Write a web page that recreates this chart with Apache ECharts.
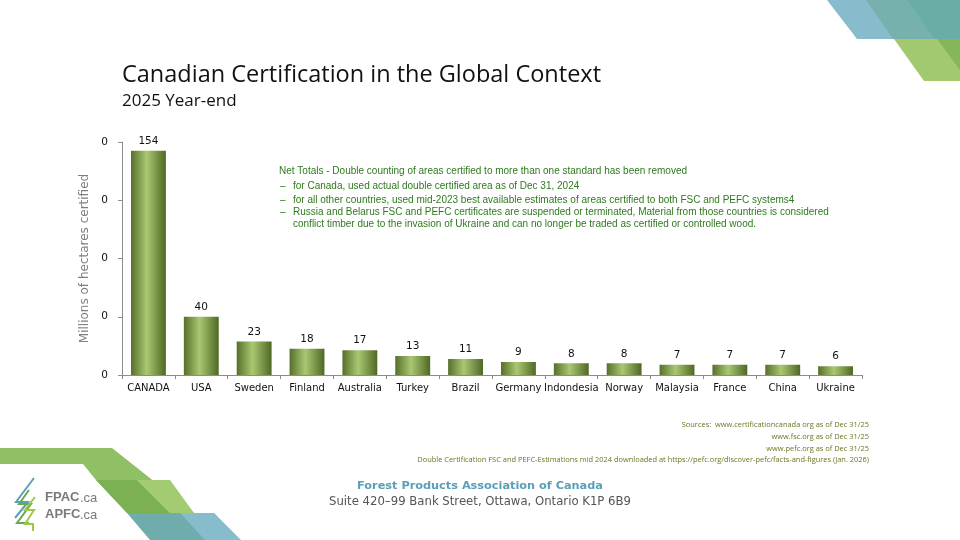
<!DOCTYPE html>
<html><head><meta charset="utf-8">
<script src="https://cdn.jsdelivr.net/npm/echarts@6/dist/echarts.min.js"></script>
<style>html,body{margin:0;padding:0;background:#fff}#c{width:960px;height:540px}</style>
</head><body><div id="c"></div>
<script>
const categories = ['CANADA','USA','Sweden','Finland','Australia','Turkey','Brazil','Germany','Indondesia','Norway','Malaysia','France','China','Ukraine'];
const values = [154,40,23,18,17,13,11,9,8,8,7,7,7,6];
const yTickLabels = ['0','0','0','0','0'];
const noteLines = [
  'Net Totals - Double counting of areas certified to more than one standard has been removed',
  'for Canada, used actual double certified area as of Dec 31, 2024',
  'for all other countries, used mid-2023 best available estimates of areas certified to both FSC and PEFC systems4',
  'Russia and Belarus FSC and PEFC certificates are suspended or terminated, Material from those countries is considered',
  'conflict timber due to the invasion of Ukraine and can no longer be traded as certified or controlled wood.'
];
const sourceLines = [
  'Sources:  www.certificationcanada org as of Dec 31/25',
  'www.fsc.org as of Dec 31/25',
  'www.pefc.org as of Dec 31/25',
  'Double Certification FSC and PEFC-Estimations mid 2024 downloaded at https://pefc.org/discover-pefc/facts-and-figures (Jan. 2026)'
];

const chart = echarts.init(document.getElementById('c'));
const barGrad = new echarts.graphic.LinearGradient(0,0,1,0,[
  {offset:0,color:'#566f2a'},{offset:0.45,color:'#a9c872'},{offset:1,color:'#4f6824'}
]);
const noteColor = '#2f7a1e';
const graphics = [
  // top-right decoration
  {type:'polygon',shape:{points:[[827,0],[960,0],[960,39],[857,39]]},style:{fill:'#88bccd'},silent:true},
  {type:'polygon',shape:{points:[[866,0],[960,0],[960,39],[893,39]]},style:{fill:'#76b1ae'},silent:true},
  {type:'polygon',shape:{points:[[907,0],[960,0],[960,39],[935,39]]},style:{fill:'#6aaca6'},silent:true},
  {type:'polygon',shape:{points:[[894,39],[960,39],[960,81],[924,81]]},style:{fill:'#a3c96e'},silent:true},
  {type:'polygon',shape:{points:[[937,39],[960,39],[960,70]]},style:{fill:'#86b55a'},silent:true},
  // bottom-left decoration
  {type:'polygon',shape:{points:[[0,448],[112,448],[194,513],[127,513],[96,480],[83,464],[0,464]]},style:{fill:'#8fc066'},silent:true},
  {type:'polygon',shape:{points:[[96,480],[137,480],[170,513],[127,513]]},style:{fill:'#7bb152'},silent:true},
  {type:'polygon',shape:{points:[[137,480],[170,480],[194,513],[170,513]]},style:{fill:'#a3cb72'},silent:true},
  {type:'polygon',shape:{points:[[127,513],[214,513],[236,540],[150,540]]},style:{fill:'#6eadab'},silent:true},
  {type:'polygon',shape:{points:[[180,513],[214,513],[241,540],[205,540]]},style:{fill:'#86bccc'},silent:true},
  // logo tree
  {type:'polyline',shape:{points:[[34,478],[16,502],[28,502],[15,518]]},style:{stroke:'#5b9fbd',lineWidth:2,fill:null},silent:true},
  {type:'polyline',shape:{points:[[29,490],[19,504],[31,504],[17,523],[29,523]]},style:{stroke:'#6aa84f',lineWidth:2,fill:null},silent:true},
  {type:'polyline',shape:{points:[[35,497],[25,510],[34,510],[25,524],[33,524],[33,531]]},style:{stroke:'#9bc94a',lineWidth:2,fill:null},silent:true},
  {type:'text',style:{x:45,y:497,text:'FPAC',fill:'#7a7a7a',font:'bold 13px "Liberation Sans"',textVerticalAlign:'middle'},silent:true},
  {type:'text',style:{x:80,y:498,text:'.ca',fill:'#7a7a7a',font:'13px "Liberation Sans"',textVerticalAlign:'middle'},silent:true},
  {type:'text',style:{x:45,y:514,text:'APFC',fill:'#7a7a7a',font:'bold 13px "Liberation Sans"',textVerticalAlign:'middle'},silent:true},
  {type:'text',style:{x:80,y:515,text:'.ca',fill:'#7a7a7a',font:'13px "Liberation Sans"',textVerticalAlign:'middle'},silent:true},
  // footer
  {type:'text',style:{x:480,y:486,text:'Forest Products Association of Canada',fill:'#5b9fb6',font:'bold 11.3px "DejaVu Sans"',textAlign:'center',textVerticalAlign:'middle'},silent:true},
  {type:'text',style:{x:480,y:502,text:'Suite 420\u201399 Bank Street, Ottawa, Ontario K1P 6B9',fill:'#555555',font:'11.7px "DejaVu Sans"',textAlign:'center',textVerticalAlign:'middle'},silent:true},
  // title
  {type:'text',style:{x:122,y:75,text:'Canadian Certification in the Global Context',fill:'#111111',font:'23.5px "Open Sans"',textVerticalAlign:'middle'},silent:true},
  {type:'text',style:{x:122,y:101,text:'2025 Year-end',fill:'#111111',font:'17px "Open Sans"',textVerticalAlign:'middle'},silent:true}
];
const noteY = [171,186,200,212,224];
noteLines.forEach((t,i)=>{
  const x = i===0 ? 279 : 293;
  graphics.push({type:'text',style:{x:x,y:noteY[i],text:t,fill:noteColor,font:'10px "Liberation Sans"',textVerticalAlign:'middle'},silent:true});
  if(i>=1 && i<=3) graphics.push({type:'text',style:{x:280,y:noteY[i],text:'\u2013',fill:noteColor,font:'10px "Liberation Sans"',textVerticalAlign:'middle'},silent:true});
});
const srcY = [425,437,449,460];
sourceLines.forEach((t,i)=>{
  graphics.push({type:'text',style:{x:869,y:srcY[i],text:t,fill:'#6f7520',font:'7.45px "Open Sans"',textAlign:'right',textVerticalAlign:'middle'},silent:true});
});

chart.setOption({
  animation:false,
  grid:{left:122,right:98,top:142,bottom:165,containLabel:false},
  xAxis:{type:'category',data:categories,
    axisLine:{lineStyle:{color:'#8c8c8c'}},
    axisTick:{show:true,alignWithLabel:false,length:4,lineStyle:{color:'#8c8c8c'}},
    axisLabel:{color:'#111',fontFamily:'DejaVu Sans',fontSize:10,margin:8,interval:0}},
  yAxis:{type:'value',min:0,max:160,interval:40,
    name:'Millions of hectares certified',nameLocation:'middle',nameGap:29,
    nameTextStyle:{color:'#7f7f7f',fontFamily:'DejaVu Sans',fontSize:12},
    axisLine:{show:true,lineStyle:{color:'#8c8c8c'}},
    axisTick:{show:true,length:4,lineStyle:{color:'#8c8c8c'}},
    splitLine:{show:false},
    axisLabel:{color:'#111',fontFamily:'DejaVu Sans',fontSize:10.5,margin:14,
      formatter:(v)=>yTickLabels[Math.round(v/40)]}},
  series:[{type:'bar',data:values,barWidth:'66%',
    itemStyle:{color:barGrad},
    label:{show:true,position:'top',color:'#111',fontFamily:'DejaVu Sans',fontSize:10.5,distance:4}}],
  graphic:graphics
});
</script></body></html>
